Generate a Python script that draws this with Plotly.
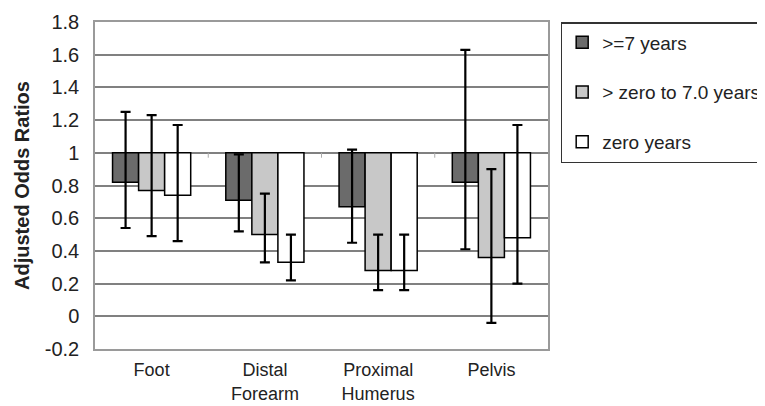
import plotly.graph_objects as go

categories = ["Foot", "Distal<br>Forearm", "Proximal<br>Humerus", "Pelvis"]
series_names = [">=7 years", "> zero to 7.0 years", "zero years"]
odds = [
    [0.82, 0.71, 0.67, 0.82],
    [0.77, 0.50, 0.28, 0.36],
    [0.74, 0.33, 0.28, 0.48],
]
upper = [
    [1.25, 0.99, 1.02, 1.63],
    [1.23, 0.75, 0.50, 0.90],
    [1.17, 0.50, 0.50, 1.17],
]
lower = [
    [0.54, 0.52, 0.45, 0.41],
    [0.49, 0.33, 0.16, -0.04],
    [0.46, 0.22, 0.16, 0.20],
]
colors = ["#6b6b6b", "#c8c8c8", "#ffffff"]
reference = 1.0
y_ticks = [-0.2, 0, 0.2, 0.4, 0.6, 0.8, 1, 1.2, 1.4, 1.6, 1.8]

fig = go.Figure()
for name, vals, hi, lo, col in zip(series_names, odds, upper, lower, colors):
    fig.add_trace(go.Bar(
        x=categories,
        y=[v - reference for v in vals],
        base=reference,
        name=name,
        legendgroup=name,
        marker=dict(color=col, line=dict(color="black", width=1.5)),
        error_y=dict(type="data", symmetric=False,
                     array=[h - v for h, v in zip(hi, vals)],
                     arrayminus=[v - l for v, l in zip(vals, lo)],
                     color="black", thickness=2.2, width=5),
    ))

font_family = "Liberation Sans, Arial, sans-serif"
# page body has an 8px default margin, so the figure is sized to fit the window
fig.update_layout(
    width=757, height=398,
    margin=dict(l=87, r=217, t=14, b=57, autoexpand=False),
    paper_bgcolor="white", plot_bgcolor="white",
    barmode="group", bargap=0.31, bargroupgap=0,
    font=dict(family=font_family, size=20, color="#222"),
    showlegend=True,
    legend=dict(x=1.028, y=1, xanchor="left", yanchor="top",
                bgcolor="white", bordercolor="#333", borderwidth=1.5,
                traceorder="grouped", tracegroupgap=22, itemwidth=30,
                font=dict(size=19, family=font_family, color="#222")),
)
fig.update_xaxes(
    automargin=False,
    showgrid=False, showline=True, linecolor="#9a9a9a", linewidth=1.5, mirror=True,
    ticks="outside", ticklen=4, tickcolor="rgba(0,0,0,0)",
    tickfont=dict(size=18),
)
fig.update_yaxes(
    automargin=False,
    range=[-0.2, 1.8], tickvals=y_ticks, ticktext=[f"{t:g}" for t in y_ticks],
    showgrid=True, gridcolor="#808080", gridwidth=1.5, zeroline=False,
    showline=True, linecolor="#9a9a9a", linewidth=1.5, mirror=True,
    ticks="outside", ticklen=10, tickcolor="rgba(0,0,0,0)",
    tickfont=dict(size=20),
    title=dict(text="<b>Adjusted Odds Ratios</b>", font=dict(size=20), standoff=10),
)
for xb in [0.5, 1.5, 2.5]:
    fig.add_shape(type="line", xref="x", yref="y", x0=xb, x1=xb,
                  y0=reference, y1=reference - 0.03,
                  line=dict(color="#aaaaaa", width=1))

fig.write_html("out.html")
